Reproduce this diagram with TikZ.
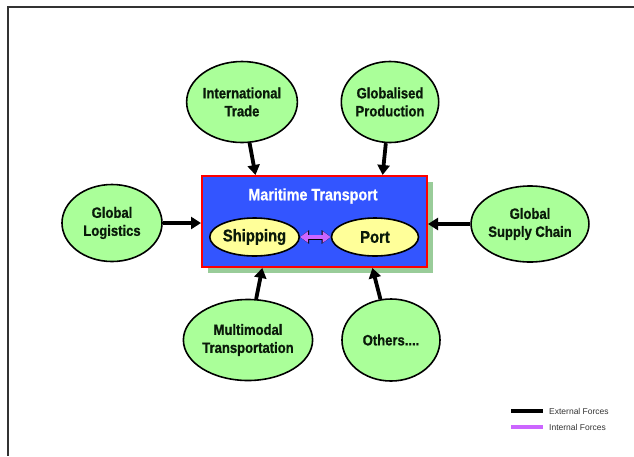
\documentclass[tikz,border=0pt]{standalone}
\usepackage{fontspec}
\setmainfont{Liberation Sans}
\newfontfamily\heavyfont[FakeBold=0.8,FakeStretch=0.87]{Liberation Sans Bold}
\usepackage{xcolor}
\usetikzlibrary{arrows.meta,calc,shadows,shapes.geometric}
\definecolor{seablue}{HTML}{3355FF}
\definecolor{forcegreen}{HTML}{AAFF99}
\definecolor{shadowgreen}{HTML}{99CC99}
\definecolor{partyellow}{HTML}{FFFF99}
\definecolor{intviolet}{HTML}{CC66FF}
\definecolor{inkgreen}{HTML}{0A1A0A}
\tikzset{%
	force/.style    = {draw, ellipse, line width=1.6pt, fill=forcegreen, inner sep=0pt, text centered, align=center, text=inkgreen, font=\fontsize{15}{18}\selectfont\heavyfont},
	part/.style     = {draw, ellipse, line width=1.6pt, fill=partyellow, inner sep=0pt, minimum width=87pt, minimum height=38pt, text=inkgreen, font=\fontsize{17}{19}\selectfont\heavyfont},
	maritime/.style = {draw=red, line width=2pt, fill=seablue, minimum width=225pt, minimum height=91pt, drop shadow={shadow xshift=6pt, shadow yshift=-6pt, fill=shadowgreen, opacity=1}},
	extarrow/.style = {line width=3.8pt, -{Triangle[length=10pt,width=12pt]}},
	intarrow/.style = {line width=3.5pt, draw=intviolet, {Triangle[length=8pt,width=11pt]}-{Triangle[length=8pt,width=11pt]},
		preaction={draw=black, line width=5pt, {Triangle[length=9pt,width=13pt]}-{Triangle[length=9pt,width=13pt]}}},
	legendtext/.style = {anchor=west, inner sep=0pt, text=black!80, font=\fontsize{8.5}{10}\selectfont},
}

\begin{document}
\begin{tikzpicture}[x=1pt,y=-1pt]
		\useasboundingbox (0,0) rectangle (634,456);
		% page frame
		\draw[line width=1.3pt, black!80] (634,7) -- (8,7) -- (8,456);
		
		% central box
		\node[maritime] (box) at (314.5,221.5) {};
		\node[text=white, font=\fontsize{16.5}{18}\selectfont\heavyfont] (title) at (313,196) {Maritime Transport};
		\node[part] (ship) at (254.5,237) {Shipping};
		\node[part] (port) at (375,237) {Port};
		\draw[intarrow] (ship) -- (port);
		
		% outer forces
		\node[force, minimum width=100pt, minimum height=81pt] (trade) at (242,102) {International\\Trade};
		\node[force, minimum width=97pt, minimum height=81pt] (prod) at (390,102) {Globalised\\Production};
		\node[force, minimum width=100pt, minimum height=77pt] (logis) at (112,223) {Global\\Logistics};
		\node[force, minimum width=106pt, minimum height=76pt] (supply) at (530,224) {Global\\Supply Chain};
		\node[force, minimum width=107pt, minimum height=81pt] (multi) at (248,340) {Multimodal\\Transportation};
		\node[force, minimum width=98pt, minimum height=82pt] (others) at (391,340) {Others....};
		
		\draw[extarrow] (trade) -- ($(box.north west)!0.24!(box.north east)$);
		\draw[extarrow] (prod) -- ($(box.north west)!0.8!(box.north east)$);
		\draw[extarrow] (logis) -- (box.west |- logis);
		\draw[extarrow] (supply) -- (box.east |- supply);
		\draw[extarrow] (multi) -- ($(box.south west)!0.27!(box.south east)$);
		\draw[extarrow] (others) -- ($(box.south west)!0.755!(box.south east)$);
		
		% legend
		\coordinate (extA) at (511,411);
		\coordinate (intA) at (511,427);
		\node[legendtext] (extlbl) at (549,411) {External Forces};
		\node[legendtext] (intlbl) at (549,427) {Internal Forces};
		\draw[line width=3.5pt] (extA) -- ++(32,0);
		\draw[line width=3.5pt, intviolet] (intA) -- ++(32,0);
\end{tikzpicture}
\end{document}
